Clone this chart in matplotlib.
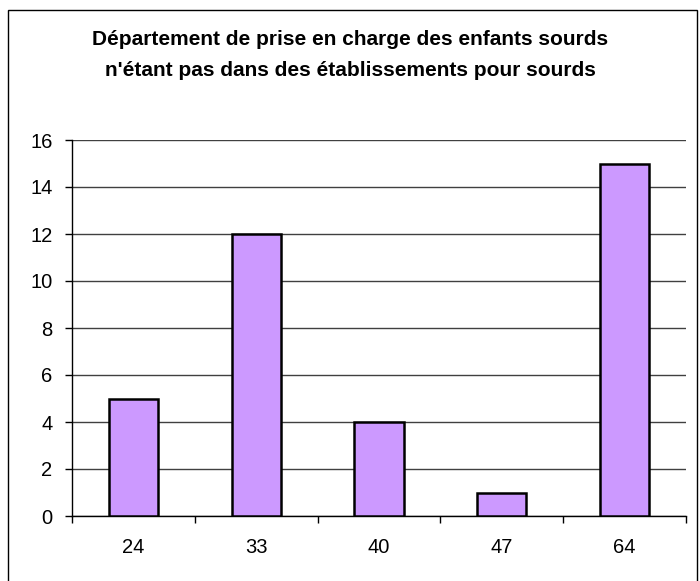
import matplotlib.pyplot as plt
from matplotlib.patches import Rectangle

plt.rcParams['font.family'] = ['Liberation Sans', 'DejaVu Sans']

departements = ['24', '33', '40', '47', '64']
nb_enfants = [5, 12, 4, 1, 15]
yticks = [0, 2, 4, 6, 8, 10, 12, 14, 16]

fig = plt.figure(figsize=(7, 5.81), dpi=100)
# cadre autour du graphique (style Excel)
fig.patches.append(Rectangle((8 / 700, -0.01), 689 / 700, 1 - 10 / 581 + 0.01,
                             transform=fig.transFigure, fill=False,
                             edgecolor='black', linewidth=1))

ax = fig.add_axes([72 / 700, 1 - 516 / 581, 614 / 700, 376 / 581])
x = range(len(departements))
ax.bar(x, nb_enfants, 0.4, color='#CC99FF', edgecolor='black', linewidth=1.8, zorder=3)

ax.set_xlim(-0.5, len(departements) - 0.5)
ax.set_ylim(0, 16)
ax.set_yticks(yticks)
ax.set_xticks(x)
ax.set_xticklabels(departements)
ax.set_xticks([i - 0.5 for i in range(len(departements) + 1)], minor=True)
ax.tick_params(axis='x', which='major', length=0, pad=16, labelsize=14.5)
ax.tick_params(axis='x', which='minor', length=5, width=1, direction='out')
ax.tick_params(axis='y', length=5, width=1, direction='out', pad=9, labelsize=14.5)
ax.yaxis.grid(True, color='#404040', linewidth=1, zorder=0)

for s in ['top', 'right']:
    ax.spines[s].set_visible(False)
ax.spines['left'].set_linewidth(1)
ax.spines['bottom'].set_linewidth(1)

fig.text(0.5, 1 - 55 / 581,
         "Département de prise en charge des enfants sourds\nn'étant pas dans des établissements pour sourds",
         ha='center', va='center', fontsize=15, fontweight='bold', linespacing=1.75)

plt.savefig('out.png', dpi=100)
